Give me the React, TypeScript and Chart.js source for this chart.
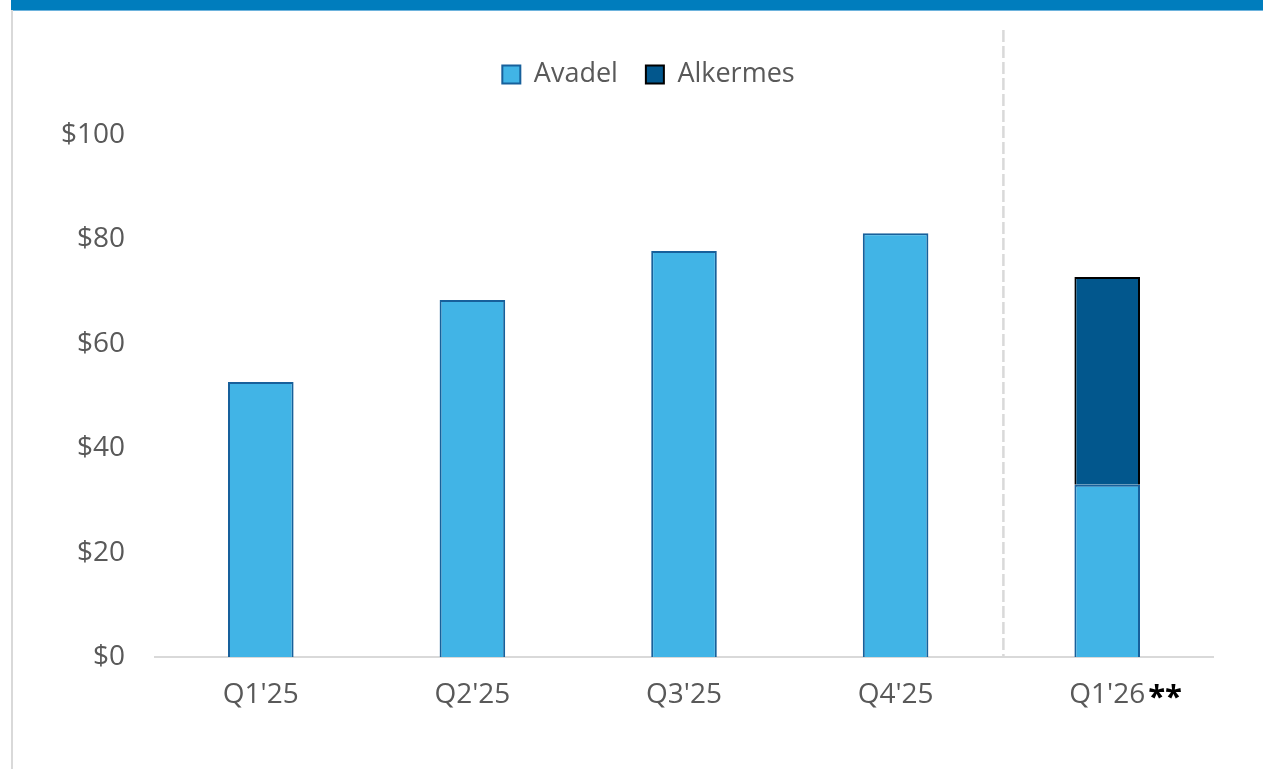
import React, { useEffect, useRef } from "react";
import { Chart, registerables } from "chart.js";

Chart.register(...registerables);

const categories = ["Q1'25", "Q2'25", "Q3'25", "Q4'25", "Q1'26"];
const avadelValues = [52.7, 68.4, 77.8, 81.2, 33.0];
const alkermesValues = [null, null, null, null, 39.8];
const yTicks = [0, 20, 40, 60, 80, 100];
const footnoteMark = "**";

const FONT = "'Open Sans', 'Noto Sans', sans-serif";
const TICK_SIZE = 28;

const legendSpacer = {
  id: "legendSpacer",
  beforeLayout(chart: any) {
    const lg = chart.legend;
    if (lg && !lg._patched) {
      const orig = lg.fit;
      lg.fit = function () {
        orig.call(this);
        this.height += 37;
      };
      lg._patched = true;
    }
  },
  afterLayout(chart: any) {
    const lg = chart.legend;
    if (lg) {
      lg.left += 42;
      lg.right += 42;
    }
  },
};

const dividerPlugin = {
  id: "divider",
  afterDatasetsDraw(chart: any) {
    const { ctx, chartArea, scales } = chart;
    const x = (scales.x.getPixelForValue(3) + scales.x.getPixelForValue(4)) / 2 + 2;
    ctx.save();
    ctx.strokeStyle = "#d9d9d9";
    ctx.lineWidth = 2.5;
    ctx.setLineDash([12, 4]);
    ctx.beginPath();
    ctx.moveTo(x, 30);
    ctx.lineTo(x, chartArea.bottom);
    ctx.stroke();
    ctx.restore();

    const xs = scales.x;
    const last = categories.length - 1;
    const cx = xs.getPixelForValue(last);
    ctx.save();
    ctx.font = `${TICK_SIZE}px ${FONT}`;
    const w = ctx.measureText(categories[last]).width;
    ctx.font = `bold 31px ${FONT}`;
    ctx.fillStyle = "#000000";
    ctx.textBaseline = "middle";
    ctx.textAlign = "left";
    ctx.fillText(footnoteMark, cx + w / 2 + 3, 698);
    ctx.restore();
  },
};

export default function App() {
  const ref = useRef<HTMLCanvasElement>(null);
  useEffect(() => {
    document.body.style.margin = "0";
    const chart = new Chart(ref.current!, {
      type: "bar",
      data: {
        labels: categories,
        datasets: [
          {
            label: "Avadel",
            data: avadelValues,
            backgroundColor: "#41b4e6",
            borderColor: "#17609b",
            borderWidth: 2,
            barPercentage: 0.31,
            categoryPercentage: 1,
          },
          {
            label: "Alkermes",
            data: alkermesValues as any,
            backgroundColor: "#02578d",
            borderColor: "#000000",
            borderWidth: 2,
            barPercentage: 0.31,
            categoryPercentage: 1,
          },
        ],
      },
      options: {
        animation: false,
        responsive: false,
        layout: { padding: { left: 0, right: 50, top: 33, bottom: 0 } },
        plugins: {
          legend: {
            display: true,
            position: "top",
            labels: {
              boxWidth: 18,
              boxHeight: 18,
              padding: 28,
              color: "#595959",
              font: { family: FONT, size: 27 },
            },
          },
          tooltip: { enabled: false },
        },
        scales: {
          x: {
            stacked: true,
            grid: { display: false, drawTicks: false },
            border: { display: true, color: "#d9d9d9", width: 2 },
            ticks: {
              color: "#595959",
              font: { family: FONT, size: TICK_SIZE },
              padding: 21,
            },
            afterFit: (s: any) => {
              s.height = 112;
            },
          },
          y: {
            stacked: true,
            min: 0,
            max: 100,
            grid: { display: false, drawTicks: false },
            border: { display: false },
            afterBuildTicks: (s: any) => {
              s.ticks = yTicks.map((v) => ({ value: v }));
            },
            ticks: {
              color: "#595959",
              font: { family: FONT, size: TICK_SIZE },
              padding: 30,
              callback: (v: any) => "$" + v,
            },
            afterFit: (s: any) => {
              s.width = 155;
            },
          },
        },
      },
      plugins: [legendSpacer, dividerPlugin],
    });
    return () => chart.destroy();
  }, []);

  return (
    <div style={{ position: "fixed", left: 0, top: 0, width: 1263, height: 769, background: "#fff", overflow: "hidden" }}>
      <div style={{ position: "absolute", left: 11, top: 0, width: 1252, height: 10, background: "#007dbd" }} />
      <div style={{ position: "absolute", left: 11, top: 10, width: 1252, height: 1, background: "#6db3dd" }} />
      <div style={{ position: "absolute", left: 11, top: 10, width: 2, height: 759, background: "#d9d9d9" }} />
      <canvas ref={ref} width={1263} height={769} style={{ position: "absolute", left: 0, top: 0 }} />
    </div>
  );
}
